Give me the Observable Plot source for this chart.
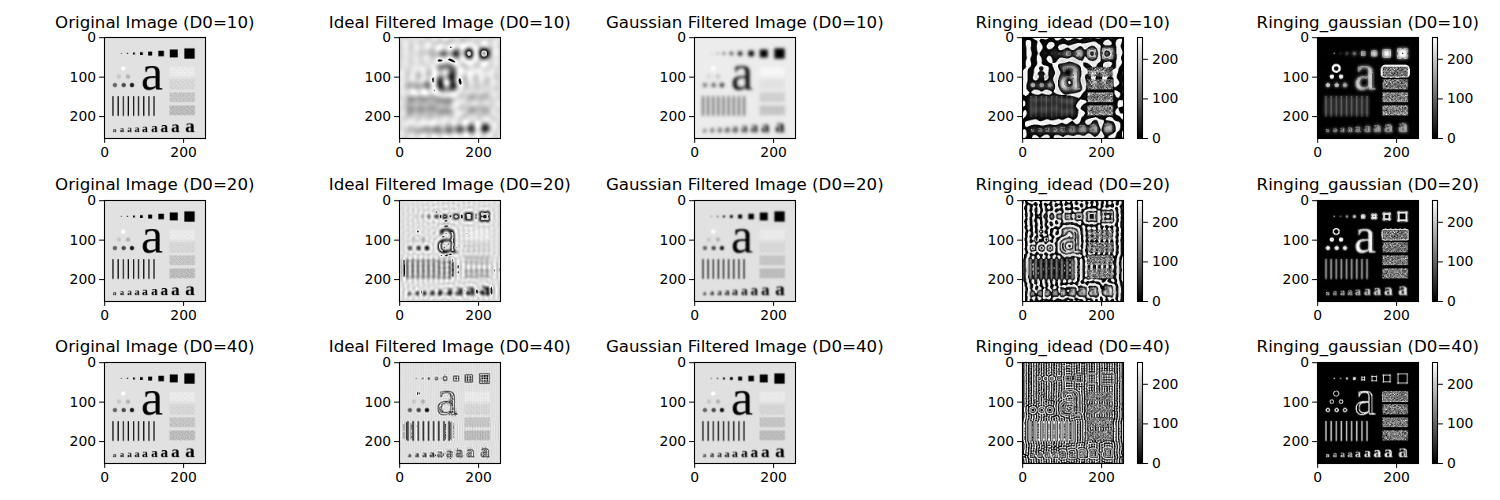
<!DOCTYPE html>
<html><head><meta charset="utf-8">
<script src="https://cdn.jsdelivr.net/npm/d3@7"></script>
<script src="https://cdn.jsdelivr.net/npm/@observablehq/plot@0.6"></script>
<style>
body{margin:0;background:#fff;}
#fig{position:relative;width:1500px;height:500px;overflow:hidden;font-family:"DejaVu Sans",sans-serif;background:#fff;}
.title{position:absolute;width:400px;text-align:center;font-size:16.67px;line-height:1;white-space:nowrap;color:#000;}
.panel{position:absolute;}
.panel svg{overflow:visible;}
</style></head><body><div id="fig"></div>
<script>
// ---------------- data ----------------
const d0Values = [10, 20, 40];
const columnTitles = ["Original Image", "Ideal Filtered Image", "Gaussian Filtered Image", "Ringing_idead", "Ringing_gaussian"];
const xTicks = [0, 200];
const yTicks = [0, 100, 200];
const colorbarTicks = [0, 100, 200];

// test pattern, 256 x 256, in image pixel coordinates
const imageSize = 256;
const backgroundGray = 225;
const squareCenterX = [42, 58, 74, 93, 115, 143, 175, 215];
const squareSide = [2, 3, 5, 7, 10, 14, 20, 26];
const squareCenterY = 40;
const squareGray = 0;
const circleX = [47, 36, 59, 26, 48, 69];
const circleY = [78, 98.5, 98.5, 120, 120, 120];
const circleGray = [255, 200, 180, 100, 75, 25];
const circleRadius = 5.5;
const barX = [21, 34, 47, 60, 73, 86, 99, 112, 125];
const barTop = 148, barBottom = 198, barWidth = 3, barGray = 0;
const bigLetterX = 120, bigLetterBaseline = 131, bigLetterSize = 126;
const smallLetterX = [25, 44, 63, 82, 102, 126, 151, 179, 216];
const smallLetterSize = [17, 20, 23, 26, 30, 34, 38, 43, 49];
const smallLetterBaseline = 239;
const letterGray = 0;
const noiseRectX = 165, noiseRectWidth = 64, noiseRectHeight = 25;
const noiseRectY = [74, 106, 139, 172];
const noiseRectMean = [235, 215, 198, 188];
const noiseRectAmp = [35, 50, 65, 75];
const noiseTile = [
  "739204816357092",
  "185627390418263",
  "402951768203574",
  "916384025791648",
  "258017493862015",
  "671439582047936",
  "043762158936427",
  "894150627384159",
  "327986041573280",
  "560213879642791",
  "918547302158364",
  "136079845021597"
];

// ---------------- build the test pattern ----------------
const N = imageSize;
const cv = document.createElement("canvas");
cv.width = N; cv.height = N;
const ctx = cv.getContext("2d");
const gray = v => `rgb(${v},${v},${v})`;
ctx.fillStyle = gray(backgroundGray);
ctx.fillRect(0, 0, N, N);
ctx.fillStyle = gray(squareGray);
squareCenterX.forEach((cx, i) => {
  const s = squareSide[i];
  ctx.fillRect(cx + 0.5 - s / 2, squareCenterY + 0.5 - s / 2, s, s);
});
circleX.forEach((cx, i) => {
  ctx.fillStyle = gray(circleGray[i]);
  ctx.beginPath();
  ctx.arc(cx + 0.5, circleY[i] + 0.5, circleRadius, 0, 2 * Math.PI);
  ctx.fill();
});
ctx.fillStyle = gray(barGray);
barX.forEach(bx => ctx.fillRect(bx + 0.5 - barWidth / 2, barTop + 0.5, barWidth, barBottom - barTop));
ctx.fillStyle = gray(letterGray);
ctx.textAlign = "center";
ctx.textBaseline = "alphabetic";
ctx.font = `${bigLetterSize}px "Liberation Serif"`;
ctx.fillText("a", bigLetterX + 0.5, bigLetterBaseline + 0.5);
smallLetterX.forEach((lx, i) => {
  ctx.font = `bold ${smallLetterSize[i]}px "Liberation Serif"`;
  ctx.fillText("a", lx + 0.5, smallLetterBaseline + 0.5);
});
const pix = ctx.getImageData(0, 0, N, N).data;
const original = new Array(N * N);
for (let k = 0; k < N * N; k++) original[k] = pix[4 * k];
const tileRows = noiseTile.length, tileCols = noiseTile[0].length;
noiseRectY.forEach((ry, r) => {
  for (let y = ry; y < ry + noiseRectHeight; y++) {
    for (let x = noiseRectX; x < noiseRectX + noiseRectWidth; x++) {
      // two readings of the same hand-typed tile (direct and transposed) give a texture without visible stripes
      const a = +noiseTile[(y + 5 * r) % tileRows][(x + 3 * r) % tileCols];
      const b = +noiseTile[(x + 7 * r) % tileRows][(y + 2 * r) % tileCols];
      const t = (a + b - 9) / 9;
      const v = Math.round(noiseRectMean[r] + noiseRectAmp[r] * t);
      original[y * N + x] = Math.max(0, Math.min(255, v));
    }
  }
});

// ---------------- frequency domain filtering ----------------
function fft1(re, im, inv) {
  const n = re.length;
  for (let i = 1, j = 0; i < n; i++) {
    let bit = n >> 1;
    for (; j & bit; bit >>= 1) j ^= bit;
    j ^= bit;
    if (i < j) {
      let t = re[i]; re[i] = re[j]; re[j] = t;
      t = im[i]; im[i] = im[j]; im[j] = t;
    }
  }
  for (let len = 2; len <= n; len <<= 1) {
    const ang = 2 * Math.PI / len * (inv ? 1 : -1);
    const wr = Math.cos(ang), wi = Math.sin(ang);
    const half = len >> 1;
    for (let i = 0; i < n; i += len) {
      let cr = 1, ci = 0;
      for (let k = 0; k < half; k++) {
        const a = i + k, b = a + half;
        const br = re[b] * cr - im[b] * ci;
        const bi = re[b] * ci + im[b] * cr;
        re[b] = re[a] - br; im[b] = im[a] - bi;
        re[a] += br; im[a] += bi;
        const ncr = cr * wr - ci * wi;
        ci = cr * wi + ci * wr; cr = ncr;
      }
    }
  }
}
function fft2(re, im, inv) {
  const r = new Float64Array(N), q = new Float64Array(N);
  for (let y = 0; y < N; y++) {
    const o = y * N;
    for (let x = 0; x < N; x++) { r[x] = re[o + x]; q[x] = im[o + x]; }
    fft1(r, q, inv);
    for (let x = 0; x < N; x++) { re[o + x] = r[x]; im[o + x] = q[x]; }
  }
  for (let x = 0; x < N; x++) {
    for (let y = 0; y < N; y++) { r[y] = re[y * N + x]; q[y] = im[y * N + x]; }
    fft1(r, q, inv);
    for (let y = 0; y < N; y++) { re[y * N + x] = r[y]; im[y * N + x] = q[y]; }
  }
}
const Fre = Float64Array.from(original), Fim = new Float64Array(N * N);
fft2(Fre, Fim, false);
const wrap8 = v => ((v % 256) + 256) % 256;
function lowpass(kind, d0) {
  const re = Fre.slice(), im = Fim.slice();
  for (let v = 0; v < N; v++) {
    const dv = v <= N / 2 ? v : N - v;
    for (let u = 0; u < N; u++) {
      const du = u <= N / 2 ? u : N - u;
      const D = Math.hypot(du, dv);
      const h = kind === "ideal" ? (D <= d0 ? 1 : 0) : Math.exp(-(D * D) / (2 * d0 * d0));
      re[v * N + u] *= h; im[v * N + u] *= h;
    }
  }
  fft2(re, im, true);
  const out = new Array(N * N);
  for (let k = 0; k < N * N; k++) out[k] = wrap8(Math.trunc(re[k] / (N * N)));
  return out;
}
const ringing = f => original.map((o, k) => wrap8(o - f[k]));

// ---------------- layout & drawing ----------------
const axLeft = [104.3, 399.3, 694.3, 1022.3, 1317.3];
const axTop = [37.3, 199.5, 361.7];
const AX = 101;
const fig = document.getElementById("fig");
const fontStyle = {fontFamily: "DejaVu Sans", fontSize: "13.9px", color: "black", background: "transparent", overflow: "visible"};

function extent(a) { let lo = Infinity, hi = -Infinity; for (const v of a) { if (v < lo) lo = v; if (v > hi) hi = v; } return [lo, hi]; }

function place(el, left, top) {
  const d = document.createElement("div");
  d.className = "panel";
  d.style.left = left + "px"; d.style.top = top + "px";
  d.appendChild(el);
  fig.appendChild(d);
}
function imagePanel(values, left, top) {
  const dom = extent(values);
  const svg = Plot.plot({
    width: 60 + AX + 10, height: 10 + AX + 30,
    marginLeft: 60, marginRight: 10, marginTop: 10, marginBottom: 30,
    style: fontStyle,
    x: {domain: [-0.5, 255.5]},
    y: {domain: [-0.5, 255.5], reverse: true},
    color: {type: "linear", domain: dom, range: ["black", "white"], interpolate: "rgb"},
    marks: [
      Plot.raster(values, {width: N, height: N, x1: -0.5, x2: 255.5, y1: -0.5, y2: 255.5, fill: d => d}),
      Plot.frame({stroke: "black", strokeWidth: 1.1}),
      Plot.axisX({ticks: xTicks, tickSize: 4.9, tickPadding: 3.5, label: null, fontSize: 13.9, tickFormat: d => String(d)}),
      Plot.axisY({ticks: yTicks, tickSize: 4.9, tickPadding: 3.5, label: null, fontSize: 13.9, tickFormat: d => String(d)})
    ]
  });
  place(svg, left - 60, top - 10);
  return dom;
}
function colorbarPanel(dom, left, top) {
  const svg = Plot.plot({
    width: 5 + 5 + 45, height: 10 + AX + 30,
    marginLeft: 5, marginRight: 45, marginTop: 10, marginBottom: 30,
    style: fontStyle,
    x: {domain: [0, 1], axis: null},
    y: {domain: dom},
    color: {type: "linear", domain: dom, range: ["black", "white"], interpolate: "rgb"},
    marks: [
      Plot.raster({x1: 0, x2: 1, y1: dom[0], y2: dom[1], width: 1, height: 256, fill: (x, y) => y}),
      Plot.frame({stroke: "black", strokeWidth: 1.1}),
      Plot.axisY({anchor: "right", ticks: colorbarTicks, tickSize: 4.9, tickPadding: 4.5, label: null, fontSize: 13.9, tickFormat: d => String(d)})
    ]
  });
  place(svg, left - 5, top - 10);
}
function title(text, left, top) {
  const d = document.createElement("div");
  d.className = "title";
  d.textContent = text;
  d.style.left = (left + AX / 2 - 200) + "px";
  d.style.top = (top - 8.3 - 14.1) + "px";
  fig.appendChild(d);
}

d0Values.forEach((d0, r) => {
  const ideal = lowpass("ideal", d0);
  const gauss = lowpass("gaussian", d0);
  const images = [original, ideal, gauss, ringing(ideal), ringing(gauss)];
  images.forEach((img, c) => {
    const dom = imagePanel(img, axLeft[c], axTop[r]);
    title(`${columnTitles[c]} (D0=${d0})`, axLeft[c], axTop[r]);
    if (c >= 3) colorbarPanel(dom, axLeft[c] + 114.5, axTop[r]);
  });
});
</script></body></html>
